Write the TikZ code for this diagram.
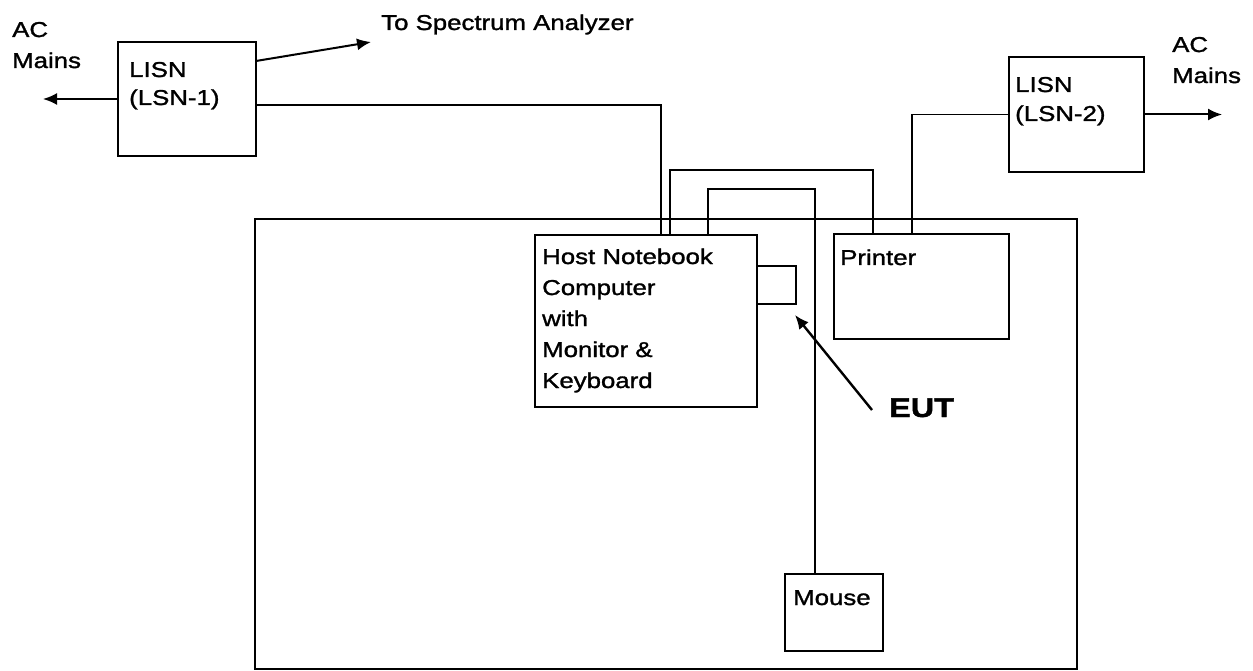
\documentclass[tikz,border=0pt]{standalone}
\usepackage{fontspec}
\setmainfont{Liberation Sans}[FakeStretch=1.2,FakeBold=1.4]
\usetikzlibrary{arrows.meta}
\begin{document}
\begin{tikzpicture}[x=1pt,y=-1pt,
  box/.style={draw,line width=2.2pt,rectangle,inner sep=0pt,outer sep=0pt,anchor=north west},
  cable/.style={line width=1.9pt},
  arr/.style={line width=2pt,-{Latex[length=14pt,width=12pt]}},
  lbl/.style={inner sep=0pt,anchor=base west,align=left,font=\fontsize{21.5}{31}\selectfont}]
\useasboundingbox (0,0) rectangle (1253,671);
% table
\node[box,line width=2.4pt,minimum width=822pt,minimum height=450pt] (table) at (255,219) {};
% boxes
\node[box,minimum width=138pt,minimum height=114pt] (lisn1) at (118,42) {};
\node[box,minimum width=135pt,minimum height=115pt] (lisn2) at (1009,57) {};
\node[box,minimum width=222pt,minimum height=172pt] (host) at (535,235) {};
\node[box,minimum width=175pt,minimum height=105pt] (printer) at (834,234) {};
\node[box,minimum width=39pt,minimum height=38pt] (eut) at (757,266) {};
\node[box,minimum width=98pt,minimum height=77pt] (mouse) at (785,574) {};
% texts (anchored at the baseline of their last line)
\node[lbl] (tac1) at (12,68) {AC\\Mains};
\node[lbl] (tac2) at (1172,83) {AC\\Mains};
\node[lbl,font=\fontsize{21.5}{28}\selectfont] (tl1) at (129,105) {LISN\\(LSN-1)};
\node[lbl,font=\fontsize{21.5}{29}\selectfont] (tl2) at (1015,121) {LISN\\(LSN-2)};
\node[lbl] (tspec) at (381,30) {To Spectrum Analyzer};
\node[lbl] (thost) at (542,388) {Host Notebook\\Computer\\with\\Monitor \&\\Keyboard};
\node[lbl] (tprn) at (840,265) {Printer};
\node[lbl] (tmouse) at (793,605) {Mouse};
\node[lbl,font=\fontsize{27}{30}\selectfont\bfseries] (teut) at (889,417) {EUT};
% free ends
\coordinate (acl) at (43,99);
\coordinate (acr) at (1222,114.5);
\coordinate (specend) at (371,42);
\coordinate (eutstart) at (872,410);
\coordinate (euttip) at (795,315);
% connectors
\draw[arr] (lisn1.west) -- (acl);
\draw[arr] ([yshift=-19pt]lisn1.north east) -- (specend);
\draw[arr] (lisn2.east) -- (acr);
\draw[arr,line width=2.4pt] (eutstart) -- (euttip);
\draw[cable] ([yshift=-63pt]lisn1.north east) -| ([xshift=126pt]host.north west);
\draw[cable] ([xshift=135pt]host.north west) -- ++(0,-65) -| ([xshift=39pt]printer.north west);
\draw[cable] ([xshift=173pt]host.north west) -- ++(0,-46) -| ([xshift=30pt]mouse.north west);
\draw[cable] ([xshift=78pt]printer.north west) |- (lisn2.west);
\end{tikzpicture}
\end{document}
